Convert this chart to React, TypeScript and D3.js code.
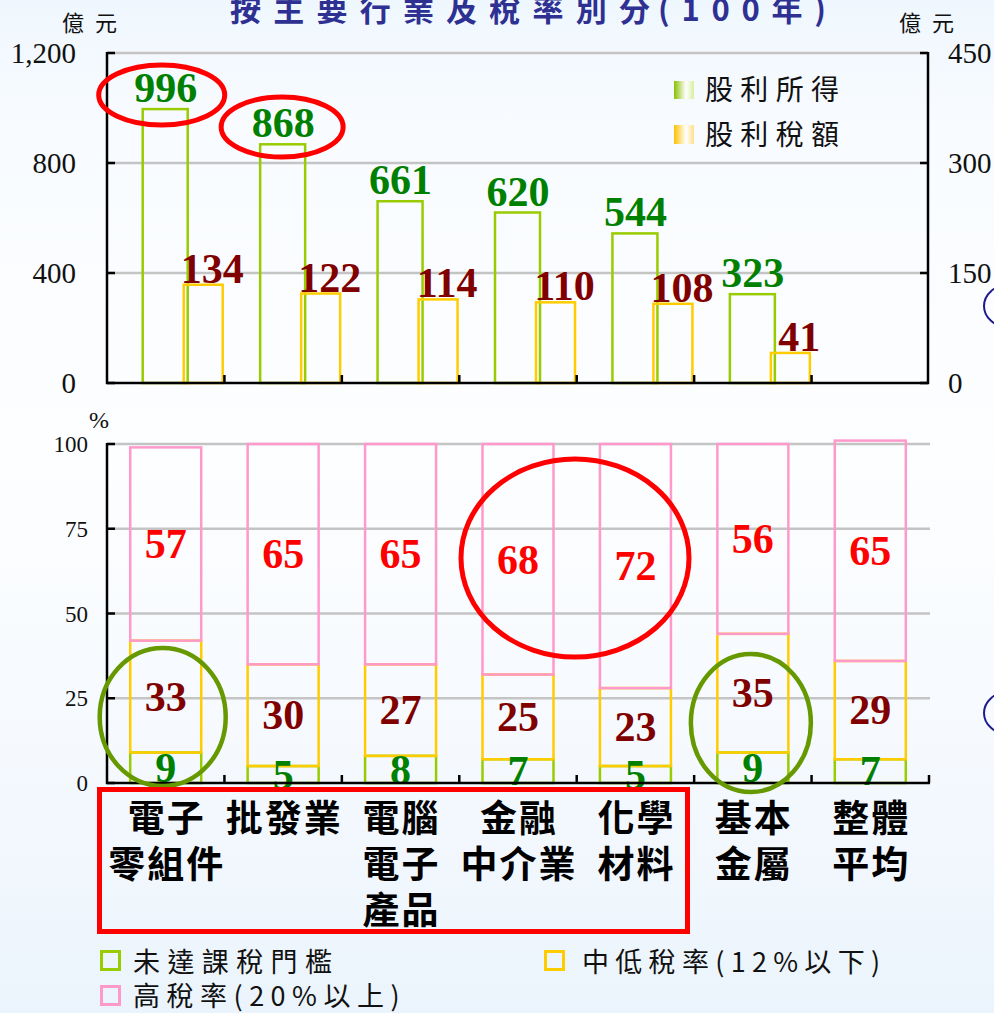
import React from "react";
import * as d3 from "d3";

const categories: string[][] = [
  ["電子", "零組件"],
  ["批發業"],
  ["電腦", "電子", "產品"],
  ["金融", "中介業"],
  ["化學", "材料"],
  ["基本", "金屬"],
  ["整體", "平均"],
];
const dividendIncome = [996, 868, 661, 620, 544, 323];
const dividendTax = [134, 122, 114, 110, 108, 41];
const belowThreshold = [9, 5, 8, 7, 5, 9, 7];
const lowRate = [33, 30, 27, 25, 23, 35, 29];
const highRate = [57, 65, 65, 68, 72, 56, 65];
const leftTicks = [0, 400, 800, 1200];
const rightTicks = [0, 150, 300, 450];
const pctTicks = [0, 25, 50, 75, 100];

const W = 994;
const H = 1013;
const NUM_FONT = "'Liberation Serif', 'Times New Roman', serif";
const CJK_FONT = "'Noto Sans CJK TC', 'Noto Sans CJK SC', sans-serif";

const GREEN = "#99cc00";
const YELLOW = "#ffcc00";
const PINK = "#ff99cc";
const GRID = "#c4c4c4";

export default function App() {
  const x = d3
    .scaleBand<number>()
    .domain(d3.range(categories.length))
    .range([107, 929])
    .paddingInner(0)
    .paddingOuter(0);
  const step = x.step();
  const cx = (i: number) => (x(i) as number) + step / 2;

  const yL = d3.scaleLinear().domain([0, 1200]).range([383, 53]);
  const yR = d3.scaleLinear().domain([0, 450]).range([383, 53]);
  const yP = d3.scaleLinear().domain([0, 100]).range([783, 444]);

  const stacked = categories.map((_, i) => {
    const a = belowThreshold[i];
    const b = lowRate[i];
    const c = highRate[i];
    return [
      { y0: 0, y1: a, v: a, color: GREEN, text: "#008000" },
      { y0: a, y1: a + b, v: b, color: YELLOW, text: "#800000" },
      { y0: a + b, y1: a + b + c, v: c, color: PINK, text: "#ff0000" },
    ];
  });

  return (
    <svg
      width={W}
      height={H}
      viewBox={`0 0 ${W} ${H}`}
      style={{ position: "absolute", left: 0, top: 0, display: "block" }}
    >
      <defs>
        <linearGradient id="bg" x1="0" y1="0" x2="0" y2="1">
          <stop offset="0" stopColor="#eff7fe" />
          <stop offset="0.12" stopColor="#f8fbff" />
          <stop offset="0.45" stopColor="#fdfeff" />
          <stop offset="0.75" stopColor="#f5f9fe" />
          <stop offset="1" stopColor="#ebf4fc" />
        </linearGradient>
        <linearGradient id="lgG" x1="0" y1="0" x2="1" y2="0">
          <stop offset="0" stopColor="#88c000" />
          <stop offset="0.6" stopColor="#ffffff" />
          <stop offset="1" stopColor="#d8eea0" />
        </linearGradient>
        <linearGradient id="lgY" x1="0" y1="0" x2="1" y2="0">
          <stop offset="0" stopColor="#ffc000" />
          <stop offset="0.6" stopColor="#ffffff" />
          <stop offset="1" stopColor="#ffe08a" />
        </linearGradient>
      </defs>
      <rect x={0} y={0} width={W} height={H} fill="url(#bg)" />

      {/* Title (cut at the top edge as in the original) */}
      <text
        x={230}
        y={21}
        fontFamily={CJK_FONT}
        fontWeight={700}
        fontSize={31}
        fill="#2e3192"
        textLength={420}
        lengthAdjust="spacing"
      >
        按主要行業及稅率別分
      </text>
      <text
        x={658}
        y={21}
        fontFamily={CJK_FONT}
        fontWeight={700}
        fontSize={31}
        fill="#2e3192"
        textLength={168}
        lengthAdjust="spacing"
      >
        (100年)
      </text>
      <text x={62} y={31} fontFamily={CJK_FONT} fontSize={22} letterSpacing={11} fill="#111">
        億元
      </text>
      <text x={899} y={31} fontFamily={CJK_FONT} fontSize={22} letterSpacing={11} fill="#111">
        億元
      </text>

      {/* ===== Top chart ===== */}
      {leftTicks
        .filter((t) => t > 0)
        .map((t) => (
          <line key={"g" + t} x1={107} x2={928} y1={yL(t)} y2={yL(t)} stroke={GRID} strokeWidth={2.5} />
        ))}

      {dividendIncome.map((v, i) => (
        <rect
          key={"inc" + i}
          x={cx(i) - 23}
          y={yL(v)}
          width={45}
          height={yL(0) - yL(v)}
          fill="none"
          stroke={GREEN}
          strokeWidth={2.5}
        />
      ))}
      {dividendTax.map((v, i) => (
        <rect
          key={"tax" + i}
          x={cx(i) + 18}
          y={yR(v)}
          width={39}
          height={yR(0) - yR(v)}
          fill="none"
          stroke={YELLOW}
          strokeWidth={2.5}
        />
      ))}
      {dividendIncome.map((v, i) => (
        <text
          key={"incl" + i}
          x={cx(i)}
          y={yL(v) - 7}
          textAnchor="middle"
          fontFamily={NUM_FONT}
          fontWeight={700}
          fontSize={42}
          fill="#008000"
        >
          {v}
        </text>
      ))}
      {dividendTax.map((v, i) => (
        <text
          key={"taxl" + i}
          x={cx(i) + 37.5 + 9}
          y={yR(v) - 2}
          textAnchor="middle"
          fontFamily={NUM_FONT}
          fontWeight={700}
          fontSize={42}
          fill="#800000"
        >
          {v}
        </text>
      ))}

      {/* axes top */}
      <line x1={107} x2={107} y1={52} y2={384} stroke="#000" strokeWidth={2.5} />
      <line x1={928} x2={928} y1={52} y2={384} stroke="#000" strokeWidth={2.5} />
      <line x1={106} x2={929} y1={383} y2={383} stroke="#000" strokeWidth={2.5} />
      {leftTicks.map((t) => (
        <g key={"lt" + t}>
          <line x1={107} x2={115} y1={yL(t)} y2={yL(t)} stroke="#000" strokeWidth={2.5} />
          <text
            x={76}
            y={yL(t)}
            dy="0.35em"
            textAnchor="end"
            fontFamily={NUM_FONT}
            fontSize={29}
            fill="#111"
          >
            {d3.format(",")(t)}
          </text>
        </g>
      ))}
      {rightTicks.map((t) => (
        <g key={"rt" + t}>
          <line x1={920} x2={928} y1={yR(t)} y2={yR(t)} stroke="#000" strokeWidth={2.5} />
          <text
            x={948}
            y={yR(t)}
            dy="0.35em"
            textAnchor="start"
            fontFamily={NUM_FONT}
            fontSize={29}
            fill="#111"
          >
            {t}
          </text>
        </g>
      ))}
      {d3.range(1, categories.length).map((i) => (
        <line
          key={"bt" + i}
          x1={x(i) as number}
          x2={x(i) as number}
          y1={383}
          y2={375}
          stroke="#000"
          strokeWidth={2.5}
        />
      ))}

      {/* legend top */}
      <rect x={674} y={81} width={20} height={18} fill="url(#lgG)" />
      <text x={705} y={100} fontFamily={CJK_FONT} fontSize={28} fill="#111" textLength={134} lengthAdjust="spacing">
        股利所得
      </text>
      <rect x={674} y={125} width={20} height={19} fill="url(#lgY)" />
      <text x={705} y={145} fontFamily={CJK_FONT} fontSize={28} fill="#111" textLength={134} lengthAdjust="spacing">
        股利稅額
      </text>

      {/* ===== Bottom chart ===== */}
      {pctTicks
        .filter((t) => t > 0)
        .map((t) => (
          <line key={"pg" + t} x1={107} x2={930} y1={yP(t)} y2={yP(t)} stroke={GRID} strokeWidth={2.5} />
        ))}
      {stacked.map((segs, i) =>
        segs.map((s, j) => (
          <rect
            key={"s" + i + "-" + j}
            x={cx(i) - 35.5}
            y={yP(s.y1)}
            width={71}
            height={yP(s.y0) - yP(s.y1)}
            fill="none"
            stroke={s.color}
            strokeWidth={2.5}
          />
        ))
      )}
      {stacked.map((segs, i) =>
        segs.map((s, j) => (
          <text
            key={"sl" + i + "-" + j}
            x={cx(i)}
            y={yP((s.y0 + s.y1) / 2)}
            dy="0.34em"
            textAnchor="middle"
            fontFamily={NUM_FONT}
            fontWeight={700}
            fontSize={42}
            fill={s.text}
          >
            {s.v}
          </text>
        ))
      )}
      <line x1={107} x2={107} y1={443} y2={784} stroke="#000" strokeWidth={2.5} />
      <line x1={106} x2={930} y1={783} y2={783} stroke="#000" strokeWidth={2.5} />
      {pctTicks.map((t) => (
        <g key={"pt" + t}>
          <line x1={107} x2={115} y1={yP(t)} y2={yP(t)} stroke="#000" strokeWidth={2.5} />
          <text
            x={88}
            y={yP(t)}
            dy="0.35em"
            textAnchor="end"
            fontFamily={NUM_FONT}
            fontSize={23}
            fill="#111"
          >
            {t}
          </text>
        </g>
      ))}
      <text x={89} y={428} fontFamily={NUM_FONT} fontSize={24} fill="#111">
        %
      </text>
      {d3.range(1, categories.length + 1).map((i) => {
        const xx = i < categories.length ? (x(i) as number) : 929;
        return <line key={"pbt" + i} x1={xx} x2={xx} y1={783} y2={775} stroke="#000" strokeWidth={2.5} />;
      })}

      {/* category labels */}
      {categories.map((lines, i) =>
        lines.map((ln, k) => (
          <text
            key={"c" + i + "-" + k}
            x={cx(i) + 1}
            y={832 + k * 46}
            textAnchor="middle"
            fontFamily={CJK_FONT}
            fontWeight={700}
            fontSize={37}
            letterSpacing={2}
            fill="#000"
          >
            {ln}
          </text>
        ))
      )}

      {/* annotations */}
      <ellipse cx={cx(0) - 4} cy={95} rx={63} ry={30} fill="none" stroke="#ff0000" strokeWidth={5} />
      <ellipse cx={cx(1) - 1} cy={127} rx={61} ry={30} fill="none" stroke="#ff0000" strokeWidth={5} />
      <ellipse cx={575} cy={558} rx={114} ry={99} fill="none" stroke="#ff0000" strokeWidth={5} />
      <ellipse cx={cx(0) - 3} cy={717} rx={63} ry={69} fill="none" stroke="#669900" strokeWidth={4.5} />
      <ellipse cx={cx(5) - 2} cy={723} rx={60} ry={69} fill="none" stroke="#669900" strokeWidth={4.5} />
      <rect x={99.5} y={789.5} width={588} height={142} fill="none" stroke="#ff0000" strokeWidth={5} />
      <ellipse cx={1008} cy={306} rx={24} ry={21} fill="none" stroke="#1a1a8c" strokeWidth={2} />
      <ellipse cx={1008} cy={713} rx={24} ry={21} fill="none" stroke="#1a1a8c" strokeWidth={2} />

      {/* bottom legend */}
      <rect x={101.5} y={951.5} width={18} height={18} fill="none" stroke={GREEN} strokeWidth={3} />
      <text x={133} y={972} fontFamily={CJK_FONT} fontSize={27} fill="#111" textLength={199} lengthAdjust="spacing">
        未達課稅門檻
      </text>
      <rect x={545.5} y={951.5} width={18} height={18} fill="none" stroke={YELLOW} strokeWidth={3} />
      <text x={582} y={972} fontFamily={CJK_FONT} fontSize={27} fill="#111" letterSpacing={6.3}>
        中低稅率(12%以下)
      </text>
      <rect x={101.5} y={986.5} width={18} height={18} fill="none" stroke={PINK} strokeWidth={3} />
      <text x={133} y={1006} fontFamily={CJK_FONT} fontSize={27} fill="#111" letterSpacing={6.5}>
        高稅率(20%以上)
      </text>
    </svg>
  );
}
